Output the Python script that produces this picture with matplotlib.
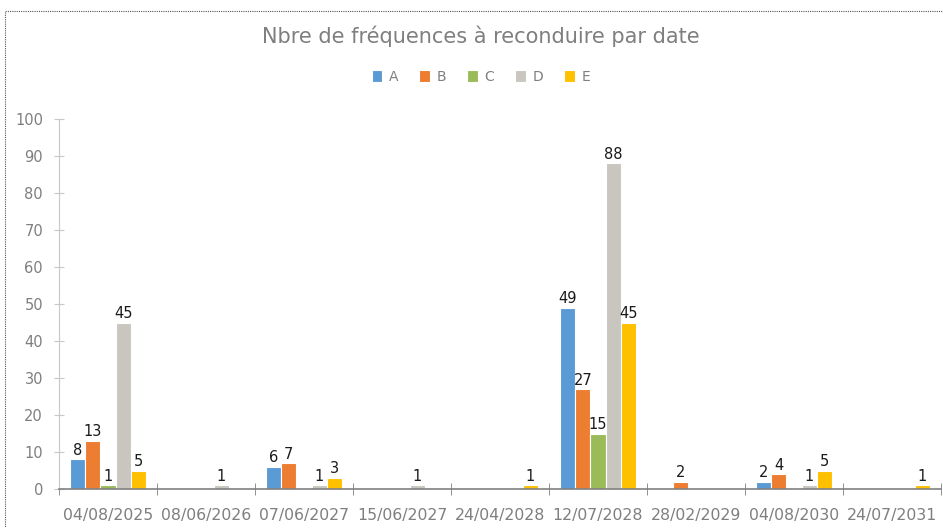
import matplotlib.pyplot as plt
import numpy as np
from matplotlib.patches import Rectangle

dates = ["04/08/2025", "08/06/2026", "07/06/2027", "15/06/2027", "24/04/2028",
         "12/07/2028", "28/02/2029", "04/08/2030", "24/07/2031"]
series = ["A", "B", "C", "D", "E"]
A = [8, None, 6, None, None, 49, None, 2, None]
B = [13, None, 7, None, None, 27, 2, 4, None]
C = [1, None, None, None, None, 15, None, None, None]
D = [45, 1, 1, 1, None, 88, None, 1, None]
E = [5, None, 3, None, 1, 45, None, 5, 1]
colors = ["#5B9BD5", "#ED7D31", "#9BBB59", "#C9C6BF", "#FFC000"]

fig = plt.figure(figsize=(9.43, 5.28), dpi=100)
ax = fig.add_axes([59 / 943, 39 / 528, 882 / 943, 370 / 528])

x = np.arange(len(dates))
w = 0.155
for i, (name, vals) in enumerate(zip(series, [A, B, C, D, E])):
    v = np.array([np.nan if t is None else t for t in vals], dtype=float)
    ax.bar(x + (i - 2) * w, v, width=w, color=colors[i], edgecolor="white",
           linewidth=0.8, label=name)
    for xi, val in zip(x + (i - 2) * w, v):
        if not np.isnan(val):
            ax.text(xi, val + 0.4, f"{int(val)}", ha="center", va="bottom",
                    fontsize=10.5, color="#1a1a1a")

ax.set_xlim(-0.5, len(dates) - 0.5)
ax.set_ylim(0, 100)
ax.set_yticks(range(0, 101, 10))
ax.set_xticks(x)
ax.set_xticklabels(dates)
ax.set_xticks(np.arange(-0.5, len(dates), 1), minor=True)
ax.tick_params(axis="x", which="major", length=0, pad=14, labelsize=11.3, labelcolor="#7f7f7f")
ax.tick_params(axis="x", which="minor", direction="inout", length=8, color="#808080")
ax.tick_params(axis="y", direction="inout", length=7, color="#c8c8c8", labelsize=10.5,
               labelcolor="#7f7f7f", pad=8)
for s in ["top", "right"]:
    ax.spines[s].set_visible(False)
ax.spines["left"].set_color("#c8c8c8")
ax.spines["bottom"].set_color("#808080")
ax.spines["bottom"].set_linewidth(1.2)

fig.text(481 / 943, 1 - 36 / 528, "Nbre de fréquences à reconduire par date",
         ha="center", va="center", fontsize=15, color="#7f7f7f")
leg = fig.legend(loc="center", bbox_to_anchor=(481 / 943, 1 - 77 / 528), ncol=5,
                 frameon=False, fontsize=10, handlelength=0.75, handleheight=1.0,
                 handletextpad=0.5, columnspacing=1.5)
for t in leg.get_texts():
    t.set_color("#7f7f7f")

fig.patches.append(Rectangle((5 / 943, -0.1), 1.1, 1.1 - 11 / 528, transform=fig.transFigure,
                             fill=False, linestyle=(0, (1, 1)), linewidth=0.8, edgecolor="#555555"))

fig.savefig("out.png", dpi=100)
